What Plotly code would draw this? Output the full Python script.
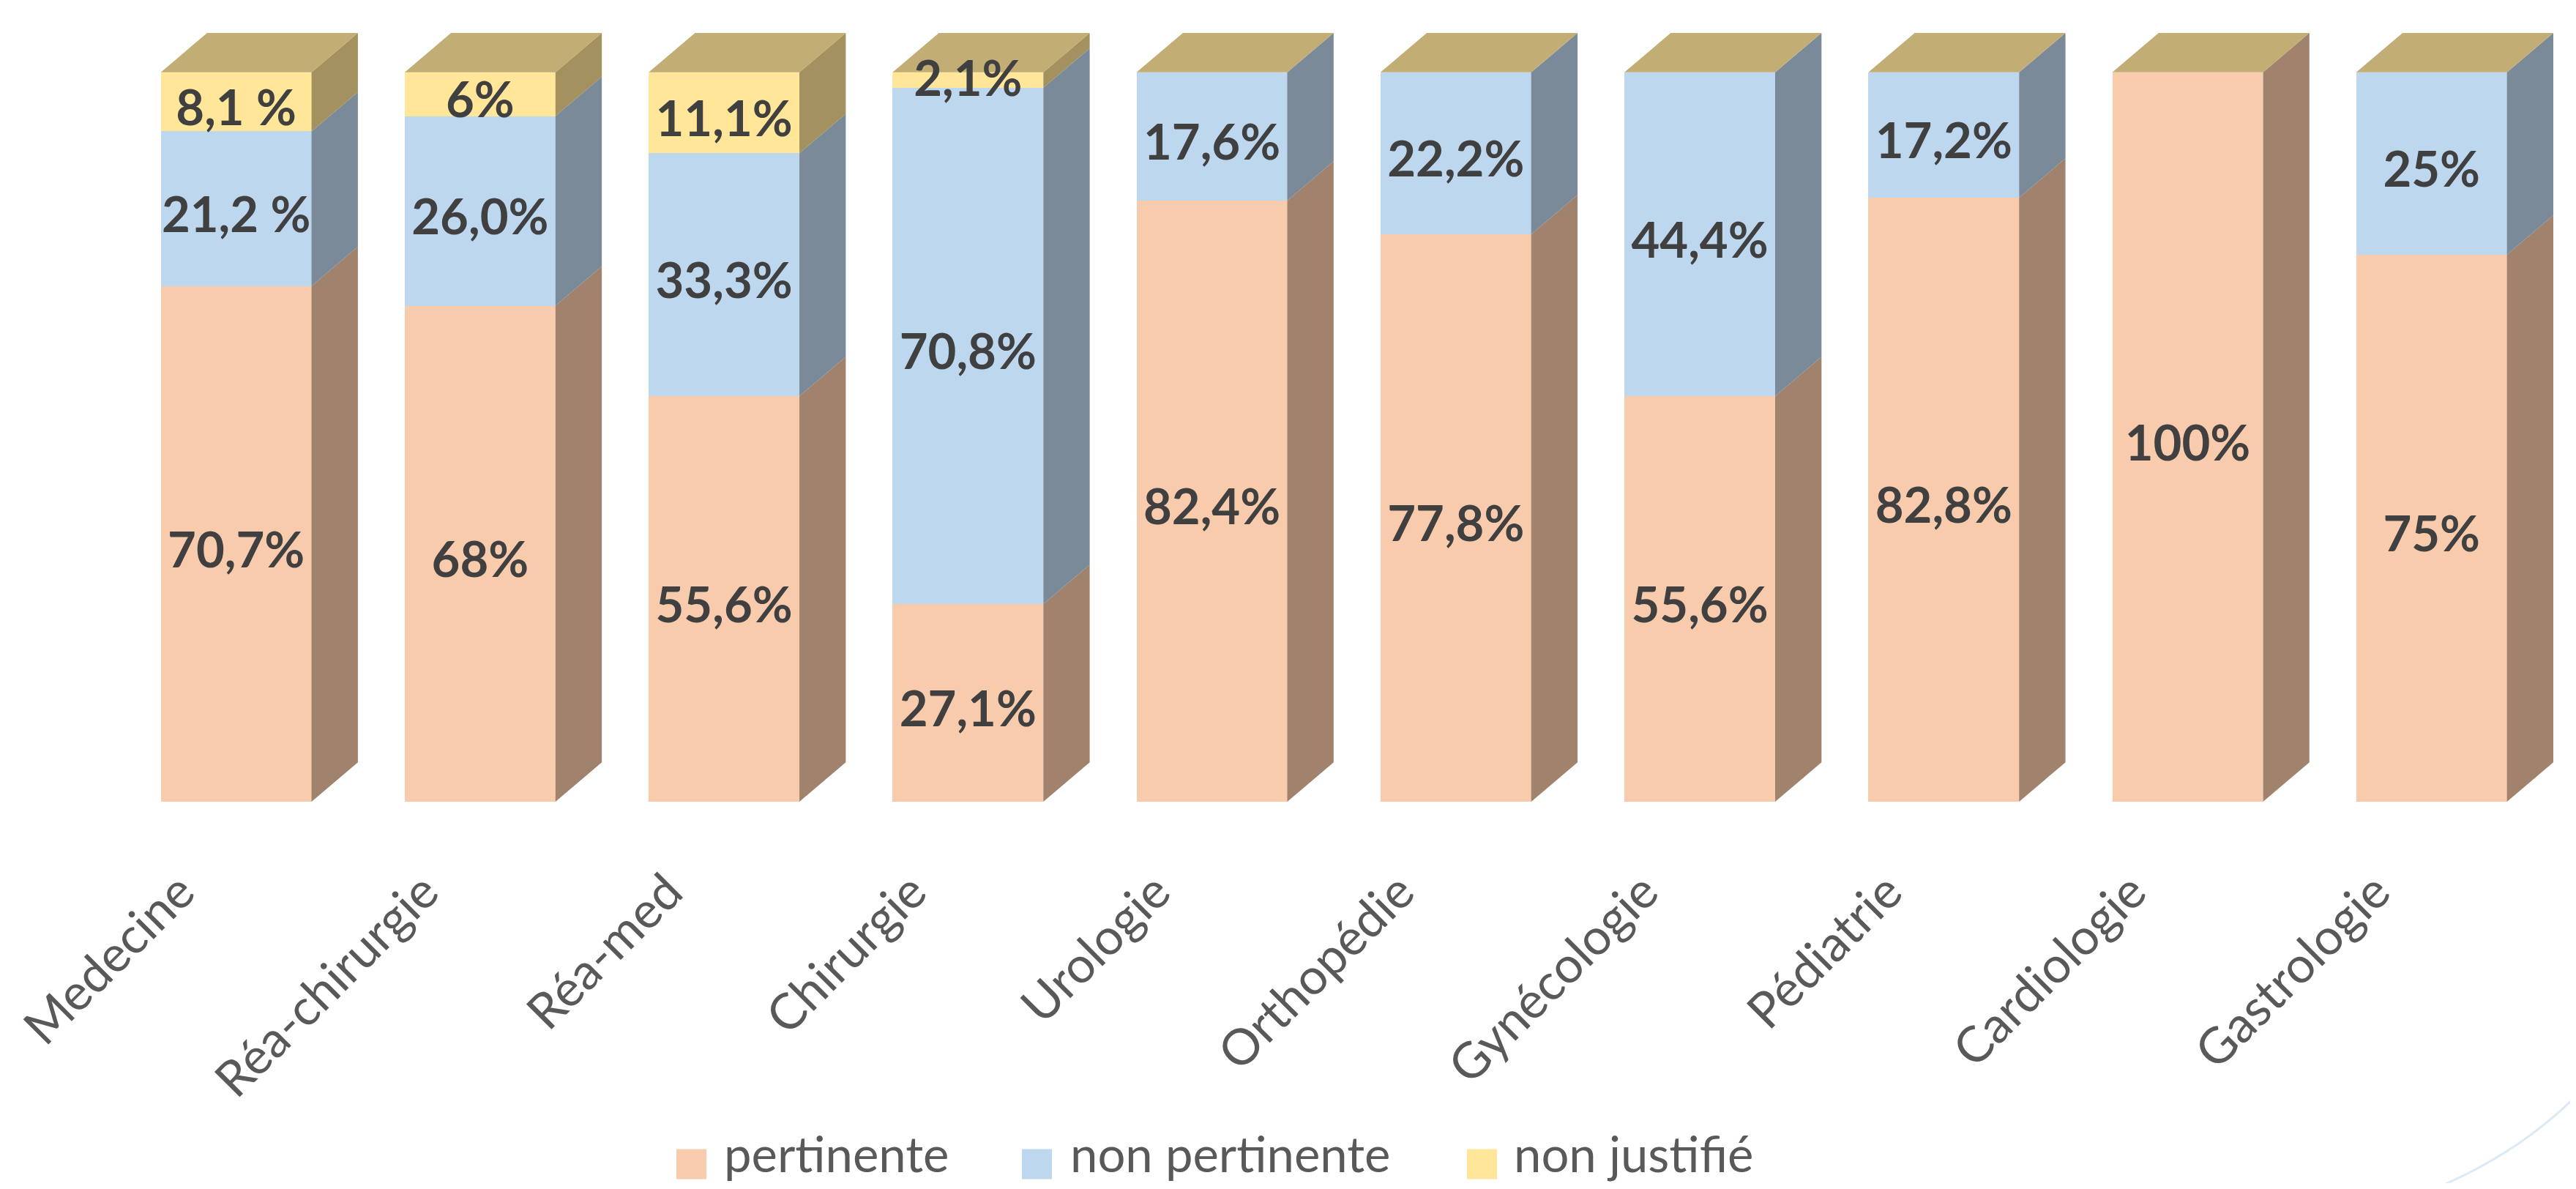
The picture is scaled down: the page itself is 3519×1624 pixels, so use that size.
import plotly.graph_objects as go

# ---------------- data ----------------
categories = ["Medecine", "Réa-chirurgie", "Réa-med", "Chirurgie", "Urologie",
              "Orthopédie", "Gynécologie", "Pédiatrie", "Cardiologie", "Gastrologie"]

pertinente = [70.7, 68.0, 55.6, 27.1, 82.4, 77.8, 55.6, 82.8, 100.0, 75.0]
non_pertinente = [21.2, 26.0, 33.3, 70.8, 17.6, 22.2, 44.4, 17.2, 0.0, 25.0]
non_justifie = [8.1, 6.0, 11.1, 2.1, 0.0, 0.0, 0.0, 0.0, 0.0, 0.0]

pertinente_labels = ["70,7%", "68%", "55,6%", "27,1%", "82,4%", "77,8%", "55,6%", "82,8%", "100%", "75%"]
non_pertinente_labels = ["21,2 %", "26,0%", "33,3%", "70,8%", "17,6%", "22,2%", "44,4%", "17,2%", "", "25%"]
non_justifie_labels = ["8,1 %", "6%", "11,1%", "2,1%", "", "", "", "", "", ""]

series_names = ["pertinente", "non pertinente", "non justifié"]

# ---------------- style ----------------
PAGE_OFF = 8                       # default body margin of the html page
W, H = 3519 - 2 * PAGE_OFF, 1624 - 2 * PAGE_OFF
ML, MT = 156 - PAGE_OFF, 39 - PAGE_OFF
PLOT_W, PLOT_H = 3349, 1056
MR = W - ML - PLOT_W
MB = H - MT - PLOT_H
front_colors = ["#F8CBAD", "#BDD7EE", "#FFE699"]
side_colors = ["#A0826D", "#7A8A98", "#A3915F"]
top_color = "#C2AE75"
label_color = "#404040"
axis_text_color = "#595959"
FONT = "Lato"
BAR_W = 0.618      # front face width (category units)
DX = 0.19          # depth offset along x (category units)
DY = 5.4           # depth offset along y (value units)
LABEL_DY = 1.5     # labels sit slightly below the segment middle

series_vals = [pertinente, non_pertinente, non_justifie]
series_labels = [pertinente_labels, non_pertinente_labels, non_justifie_labels]
xs = list(range(len(categories)))

fig = go.Figure()

# front faces (stacked bars)
for k in range(3):
    fig.add_trace(go.Bar(
        x=xs, y=series_vals[k], name=series_names[k], width=BAR_W,
        marker=dict(color=front_colors[k], line=dict(width=0)),
        hoverinfo="skip", showlegend=False,
    ))

# side faces computed from the stacked values
bases = [0.0] * len(xs)
label_x, label_y, label_t = [], [], []
for k in range(3):
    px, py = [], []
    for i in xs:
        v = series_vals[k][i]
        y0, y1 = bases[i], bases[i] + v
        if v > 0:
            xr = i + BAR_W / 2
            px += [xr, xr + DX, xr + DX, xr, xr, None]
            py += [y0, y0 + DY, y1 + DY, y1, y0, None]
            if series_labels[k][i]:
                label_x.append(i)
                label_y.append((y0 + y1) / 2 - (LABEL_DY if v > 5 else 0.5))
                label_t.append(series_labels[k][i])
        bases[i] = y1
    fig.add_trace(go.Scatter(
        x=px, y=py, mode="lines", fill="toself", fillcolor=side_colors[k],
        line=dict(width=0), hoverinfo="skip", showlegend=False,
    ))

# top faces at the stack totals
tx, ty = [], []
for i in xs:
    top = bases[i]
    xl, xr = i - BAR_W / 2, i + BAR_W / 2
    tx += [xl, xl + DX, xr + DX, xr, xl, None]
    ty += [top, top + DY, top + DY, top, top, None]
fig.add_trace(go.Scatter(
    x=tx, y=ty, mode="lines", fill="toself", fillcolor=top_color,
    line=dict(width=0), hoverinfo="skip", showlegend=False,
))

# data labels
fig.add_trace(go.Scatter(
    x=label_x, y=label_y, mode="text", text=label_t,
    textfont=dict(family=FONT, size=67, color=label_color, weight="bold"),
    hoverinfo="skip", showlegend=False,
))

# ---------------- manual legend ----------------
def px_to_paper(px, py):
    # px, py are page pixel positions
    return (px - PAGE_OFF - ML) / PLOT_W, (MT + PLOT_H - (py - PAGE_OFF)) / PLOT_H

legend_items = [(924, 988), (1396, 1461), (2004, 2067)]
sq = 41
ycen = 1590
text_bottom = 1624 - PAGE_OFF
shapes = []
annotations = []
for k, (mx, tx0) in enumerate(legend_items):
    x0, y0 = px_to_paper(mx, ycen + sq / 2)
    x1, y1 = px_to_paper(mx + sq, ycen - sq / 2)
    shapes.append(dict(type="rect", xref="paper", yref="paper", x0=x0, x1=x1, y0=y0, y1=y1,
                       fillcolor=front_colors[k], line=dict(width=0)))
    ax, ay = px_to_paper(tx0, text_bottom)
    annotations.append(dict(xref="paper", yref="paper", x=ax, y=ay, xanchor="left", yanchor="bottom",
                            text=series_names[k], showarrow=False, borderpad=0,
                            font=dict(family=FONT, size=67, color=axis_text_color)))

# faint decorative arc bottom-right
a0 = px_to_paper(3325, 1624)
a1 = px_to_paper(3440, 1576)
a2 = px_to_paper(3519, 1497)
shapes.append(dict(type="path", xref="paper", yref="paper",
                   path=f"M {a0[0]},{a0[1]} Q {a1[0]},{a1[1]} {a2[0]},{a2[1]}",
                   line=dict(color="#DCE9F7", width=3)))

fig.update_layout(
    width=W, height=H,
    margin=dict(l=ML, r=MR, t=MT, b=MB),
    paper_bgcolor="white", plot_bgcolor="white",
    barmode="stack",
    showlegend=False,
    shapes=shapes,
    annotations=annotations,
    font=dict(family=FONT),
)
fig.update_xaxes(
    range=[-0.5, 9.55],
    tickmode="array",
    tickvals=[i - 0.23 for i in xs],
    ticktext=categories,
    tickangle=-45,
    tickfont=dict(family=FONT, size=68, color=axis_text_color),
    ticks="outside", ticklen=55, tickcolor="rgba(0,0,0,0)",
    showgrid=False, zeroline=False, showline=False,
)
fig.update_yaxes(range=[0, 106], visible=False, showgrid=False, zeroline=False)

fig.write_html("out.html")
